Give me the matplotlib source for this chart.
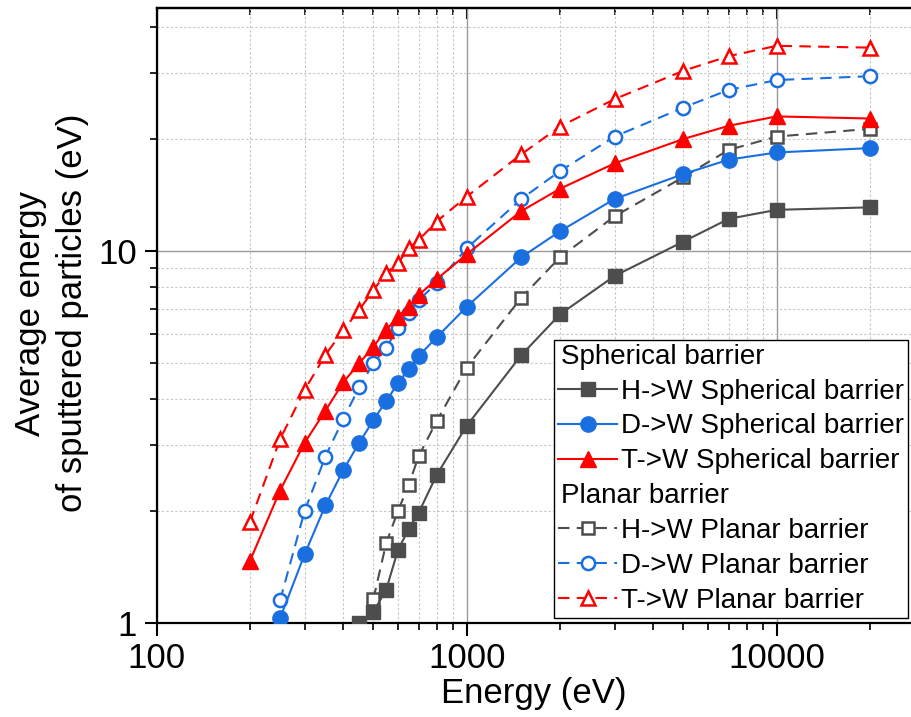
import matplotlib
matplotlib.use("Agg")
import matplotlib.pyplot as plt
from matplotlib.lines import Line2D
from matplotlib.ticker import NullFormatter, LogLocator, FuncFormatter

plt.rcParams['font.family'] = ['Liberation Sans', 'DejaVu Sans']

# energies (eV)
E_H = [450, 500, 550, 600, 650, 700, 800, 1000, 1500, 2000, 3000, 5000, 7000, 10000, 20000]
E_H_pl = [500, 550, 600, 650, 700, 800, 1000, 1500, 2000, 3000, 5000, 7000, 10000, 20000]
E_D = [250, 300, 350, 400, 450, 500, 550, 600, 650, 700, 800, 1000,
       1500, 2000, 3000, 5000, 7000, 10000, 20000]
E_T = [200, 250, 300, 350, 400, 450, 500, 550, 600, 650, 700, 800, 1000,
       1500, 2000, 3000, 5000, 7000, 10000, 20000]

# average energy of sputtered particles (eV)
H_sph = [1.00, 1.07, 1.23, 1.57, 1.79, 1.98, 2.50, 3.39, 5.25, 6.76, 8.57, 10.6, 12.2, 12.9, 13.1]
H_pl = [1.16, 1.64, 2.00, 2.35, 2.81, 3.49, 4.86, 7.49, 9.62, 12.4, 15.8, 18.7, 20.3, 21.3]
D_sph = [1.03, 1.53, 2.07, 2.58, 3.05, 3.51, 3.95, 4.41, 4.82, 5.22, 5.86, 7.08,
         9.62, 11.3, 13.8, 16.1, 17.6, 18.4, 18.9]
D_pl = [1.15, 2.00, 2.80, 3.54, 4.30, 4.99, 5.50, 6.20, 6.80, 7.38, 8.19, 10.17,
        13.8, 16.4, 20.3, 24.3, 27.1, 28.8, 29.5]
T_sph = [1.47, 2.27, 3.05, 3.72, 4.44, 4.99, 5.53, 6.13, 6.66, 7.08, 7.61, 8.40, 9.8,
         12.8, 14.7, 17.2, 20.0, 21.7, 23.0, 22.7]
T_pl = [1.87, 3.12, 4.23, 5.25, 6.13, 6.94, 7.85, 8.71, 9.27, 10.17, 10.7, 12.0, 14.0,
        18.2, 21.6, 25.6, 30.5, 33.4, 35.6, 35.2]

gray = '#4d4d4d'
blue = '#1a6fe0'
red = '#ff0000'
dash = (5.5, 3.5)

fig = plt.figure(figsize=(9.11, 7.17), dpi=100)
ax = fig.add_axes([0.172, 0.1311, 0.828, 0.8573])

# planar barrier (open markers, dashed)
l_hp, = ax.plot(E_H_pl, H_pl, color=gray, lw=1.5, dashes=dash, marker='s', ms=8,
                mfc='white', mec=gray, mew=1.8, label='H->W Planar barrier', zorder=3)
l_dp, = ax.plot(E_D, D_pl, color=blue, lw=1.5, dashes=dash, marker='o', ms=9.5,
                mfc='white', mec=blue, mew=1.8, label='D->W Planar barrier', zorder=3)
l_tp, = ax.plot(E_T, T_pl, color=red, lw=1.5, dashes=dash, marker='^', ms=10.5,
                mfc='white', mec=red, mew=1.8, label='T->W Planar barrier', zorder=3)

# spherical barrier (filled markers, solid)
l_hs, = ax.plot(E_H, H_sph, color=gray, lw=1.5, marker='s', ms=9.5,
                label='H->W Spherical barrier', zorder=4)
l_ds, = ax.plot(E_D, D_sph, color=blue, lw=1.5, marker='o', ms=11,
                label='D->W Spherical barrier', zorder=4)
l_ts, = ax.plot(E_T, T_sph, color=red, lw=1.5, marker='^', ms=12,
                label='T->W Spherical barrier', zorder=4)

ax.set_xscale('log')
ax.set_yscale('log')
ax.set_xlim(100, 27100)
ax.set_ylim(1, 44.9)

plain = FuncFormatter(lambda v, pos: f'{v:g}')
ax.xaxis.set_major_formatter(plain)
ax.yaxis.set_major_formatter(plain)
ax.xaxis.set_minor_formatter(NullFormatter())
ax.yaxis.set_minor_formatter(NullFormatter())
ax.xaxis.set_minor_locator(LogLocator(base=10, subs=range(2, 10)))
ax.yaxis.set_minor_locator(LogLocator(base=10, subs=range(2, 10)))

ax.grid(which='major', color='#9a9a9a', lw=1.0, ls='-')
ax.grid(which='minor', color='#c4c4c4', lw=0.8, ls=(0, (2, 2)))
ax.set_axisbelow(True)

for s in ['left', 'bottom', 'top']:
    ax.spines[s].set_linewidth(1.6)
ax.spines['right'].set_visible(False)

ax.tick_params(which='major', direction='out', length=9, width=1.5, labelsize=25,
               top=False, right=False, pad=5)
ax.tick_params(which='minor', direction='out', length=5, width=1.2,
               top=False, right=False)

top = ax.secondary_xaxis('top')
top.tick_params(which='major', direction='in', length=8, width=1.5, labeltop=False)
top.tick_params(which='minor', direction='in', length=5, width=1.2)
top.xaxis.set_minor_locator(LogLocator(base=10, subs=range(2, 10)))
top.xaxis.set_minor_formatter(NullFormatter())
top.spines['top'].set_linewidth(1.6)

ax.set_xlabel('Energy (eV)', fontsize=25)
ax.xaxis.set_label_coords(0.5, -0.088)
ax.set_ylabel('Average energy\nof sputtered particles (eV)', fontsize=25, linespacing=1.35)
ax.yaxis.set_label_coords(-0.09, 0.504)

# legend with group headers
blank = Line2D([], [], linestyle='none', marker='none')
handles = [blank, l_hs, l_ds, l_ts, blank, l_hp, l_dp, l_tp]
labels = ['Spherical barrier', l_hs.get_label(), l_ds.get_label(), l_ts.get_label(),
          'Planar barrier', l_hp.get_label(), l_dp.get_label(), l_tp.get_label()]
leg = ax.legend(handles, labels, loc='lower right', bbox_to_anchor=(0.996, 0.008),
                borderaxespad=0, fontsize=20, handlelength=2.15, handletextpad=0.12,
                labelspacing=0.32, borderpad=0.15, fancybox=False, framealpha=1,
                edgecolor='black', numpoints=1)
leg.get_frame().set_linewidth(1.0)
for vpack in leg._legend_handle_box.get_children():
    for i, hpack in enumerate(vpack.get_children()):
        if i in (0, 4):
            hpack.get_children()[0].set_width(0)

fig.savefig('out.png', dpi=100)
